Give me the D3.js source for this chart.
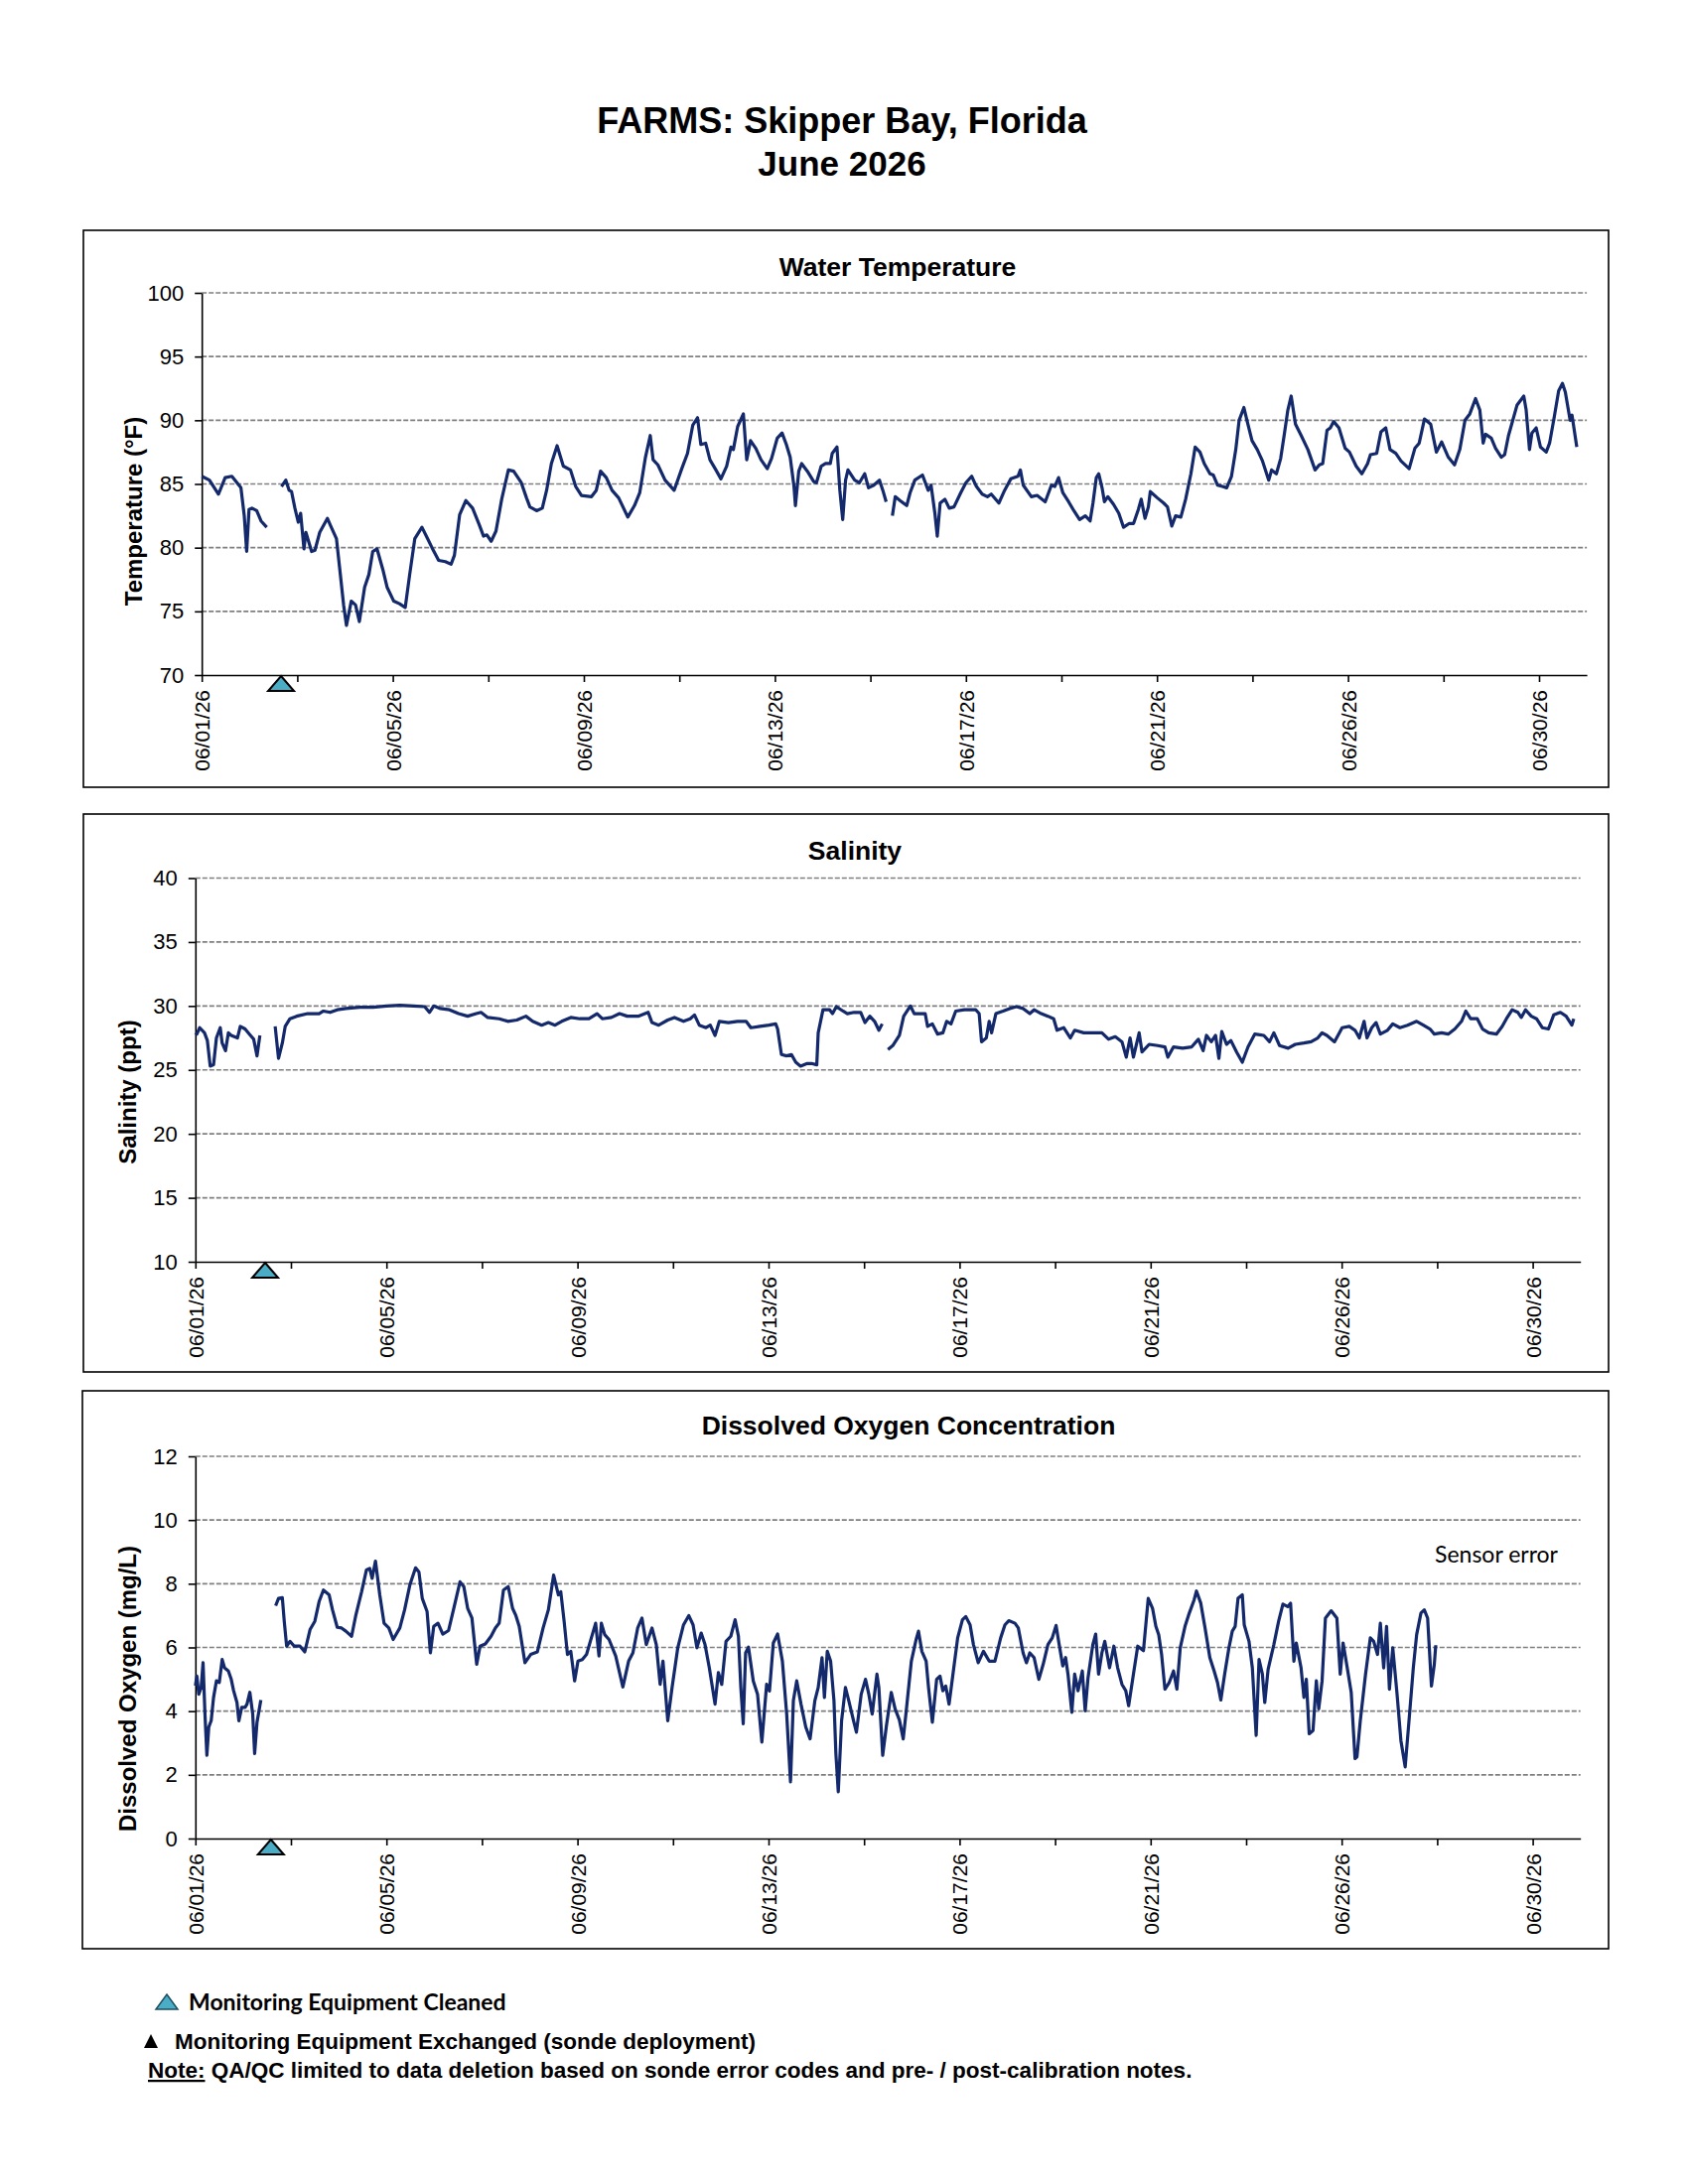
<!DOCTYPE html>
<html lang="en">

<head>
    <meta charset="UTF-8" />
    <title>FARMS: Skipper Bay, Florida - June 2026</title>
    <style>
        body {
            margin: 0;
            background: #fff;
        }

        svg {
            display: block;
            font-family: "Liberation Sans", Arial, sans-serif;
        }

        .grid {
            stroke: #7f7f7f;
            stroke-width: 1.6;
            stroke-dasharray: 5 2;
        }

        .axis path,
        .axis line {
            stroke: #000;
            stroke-width: 1.6;
        }

        .series {
            fill: none;
            stroke: #13296b;
            stroke-width: 3.2;
            stroke-linejoin: round;
        }
    </style>
</head>

<body>
    <svg width="1700" height="2200"></svg>
    <script src="https://cdn.jsdelivr.net/npm/d3@7"></script>
    <script>
        // x positions are in "days" from the 06/01/26 label, one axis tick every 2 days
        const dateLabels = ["06/01/26", "06/05/26", "06/09/26", "06/13/26", "06/17/26", "06/21/26", "06/26/26", "06/30/26"];
        const xTicks = d3.range(0, 29, 2);

        const tempTicks = [70, 75, 80, 85, 90, 95, 100];
        const salTicks = [10, 15, 20, 25, 30, 35, 40];
        const doTicks = [0, 2, 4, 6, 8, 10, 12];

        // day where the "Monitoring Equipment Cleaned" marker sits in each panel
        const cleanedAt = [1.66, 1.46, 1.58];

        // [day, value], null = no data
        const tempSeries = [
            [0, 85.6], [0.16, 85.3], [0.35, 84.2], [0.49, 85.5], [0.63, 85.6], [0.82, 84.7], [0.89, 82.5], [0.94, 79.7],
            [0.99, 83.0], [1.05, 83.1], [1.15, 82.9], [1.24, 82.1], [1.36, 81.6], [1.5, null],
            [1.67, 84.8], [1.76, 85.3], [1.83, 84.5], [1.88, 84.4], [1.95, 83.1], [2.02, 82.0], [2.07, 82.7], [2.14, 79.9],
            [2.18, 81.2], [2.30, 79.7], [2.37, 79.8], [2.47, 81.2], [2.63, 82.3], [2.70, 81.7], [2.82, 80.7], [2.89, 78.3],
            [2.97, 75.5], [3.03, 73.9], [3.13, 75.8], [3.22, 75.5], [3.30, 74.2], [3.41, 76.9], [3.50, 77.9], [3.58, 79.7],
            [3.67, 79.9], [3.79, 78.3], [3.88, 76.9], [4.02, 75.8], [4.14, 75.6], [4.26, 75.3], [4.35, 77.8], [4.46, 80.7],
            [4.61, 81.6], [4.73, 80.7], [4.82, 80.0], [4.96, 79.0], [5.10, 78.9], [5.22, 78.7], [5.29, 79.4], [5.40, 82.6],
            [5.53, 83.7], [5.67, 83.1], [5.81, 81.8], [5.90, 80.9], [5.97, 81.0], [6.06, 80.5], [6.16, 81.3], [6.28, 83.8],
            [6.42, 86.1], [6.53, 86.0], [6.69, 85.1], [6.80, 83.9], [6.87, 83.2], [7.01, 82.9], [7.13, 83.1], [7.22, 84.5],
            [7.32, 86.6], [7.44, 88.0], [7.57, 86.4], [7.72, 86.1], [7.83, 84.8], [7.95, 84.1], [8.16, 84.0], [8.26, 84.5],
            [8.35, 86.0], [8.47, 85.5], [8.59, 84.5], [8.73, 83.9], [8.92, 82.4], [9.06, 83.3], [9.17, 84.3], [9.29, 87.1],
            [9.39, 88.8], [9.45, 86.9], [9.55, 86.5], [9.70, 85.3], [9.89, 84.5], [10.05, 86.2], [10.17, 87.4], [10.28, 89.6],
            [10.38, 90.2], [10.45, 88.1], [10.55, 88.2], [10.64, 86.9], [10.75, 86.2], [10.87, 85.4], [10.99, 86.4], [11.08, 87.9],
            [11.13, 87.7], [11.22, 89.5], [11.34, 90.5], [11.41, 86.9], [11.49, 88.4], [11.60, 87.8], [11.71, 86.9], [11.84, 86.2],
            [11.93, 87.0], [12.05, 88.6], [12.15, 89.0], [12.24, 88.1], [12.32, 87.1], [12.40, 84.8], [12.43, 83.3], [12.50, 86.0],
            [12.56, 86.6], [12.68, 86.0], [12.81, 85.2], [12.87, 85.1], [12.97, 86.4], [13.06, 86.6], [13.16, 86.6], [13.20, 87.4],
            [13.30, 87.9], [13.36, 84.5], [13.42, 82.2], [13.48, 85.3], [13.53, 86.1], [13.67, 85.3], [13.77, 85.1], [13.88, 85.8],
            [13.96, 84.7], [14.07, 84.9], [14.19, 85.3], [14.26, 84.5], [14.33, 83.6], [14.39, null],
            [14.46, 82.5], [14.52, 84.0], [14.62, 83.7], [14.76, 83.3], [14.83, 84.3], [14.93, 85.3], [15.09, 85.7], [15.21, 84.5],
            [15.27, 84.9], [15.35, 82.7], [15.40, 80.9], [15.46, 83.5], [15.56, 83.8], [15.65, 83.1], [15.75, 83.2], [15.89, 84.3],
            [16.00, 85.1], [16.12, 85.6], [16.22, 84.8], [16.34, 84.2], [16.45, 84.0], [16.53, 84.2], [16.69, 83.5], [16.81, 84.5],
            [16.94, 85.4], [17.09, 85.6], [17.14, 86.1], [17.20, 84.9], [17.37, 84.0], [17.49, 84.1], [17.66, 83.6], [17.79, 84.9],
            [17.86, 84.8], [17.94, 85.5], [18.03, 84.3], [18.15, 83.6], [18.26, 82.9], [18.38, 82.2], [18.50, 82.5], [18.60, 82.1],
            [18.66, 83.5], [18.73, 85.5], [18.78, 85.8], [18.85, 84.7], [18.90, 83.6], [18.97, 84.0], [19.09, 83.4], [19.20, 82.7],
            [19.30, 81.6], [19.42, 81.9], [19.51, 81.9], [19.61, 83.0], [19.67, 83.8], [19.75, 82.3], [19.82, 83.2], [19.86, 84.4],
            [20.01, 83.9], [20.14, 83.5], [20.22, 83.2], [20.31, 81.7], [20.39, 82.5], [20.50, 82.4], [20.60, 83.8], [20.71, 85.8],
            [20.80, 87.9], [20.90, 87.5], [20.99, 86.6], [21.11, 85.8], [21.18, 85.7], [21.27, 84.9], [21.37, 84.8], [21.46, 84.7],
            [21.56, 85.6], [21.65, 87.7], [21.72, 90.0], [21.82, 91.0], [21.89, 89.9], [21.99, 88.4], [22.10, 87.7], [22.21, 86.8],
            [22.34, 85.3], [22.40, 86.1], [22.50, 85.8], [22.59, 87.0], [22.67, 89.0], [22.74, 90.8], [22.81, 91.9], [22.90, 89.7],
            [23.02, 88.8], [23.16, 87.7], [23.31, 86.1], [23.40, 86.5], [23.47, 86.6], [23.56, 89.2], [23.63, 89.4], [23.70, 89.9],
            [23.81, 89.4], [23.94, 87.8], [24.03, 87.5], [24.17, 86.4], [24.29, 85.8], [24.41, 86.6], [24.47, 87.3], [24.60, 87.4],
            [24.69, 89.1], [24.79, 89.4], [24.88, 87.7], [25.00, 87.4], [25.11, 86.8], [25.28, 86.2], [25.40, 87.8], [25.49, 88.2],
            [25.60, 90.1], [25.73, 89.7], [25.85, 87.5], [25.96, 88.3], [26.10, 87.1], [26.23, 86.5], [26.34, 87.7], [26.45, 90.0],
            [26.55, 90.5], [26.67, 91.7], [26.76, 90.8], [26.83, 88.2], [26.88, 88.9], [27.00, 88.6], [27.09, 87.8], [27.21, 87.1],
            [27.28, 87.3], [27.36, 88.8], [27.42, 89.6], [27.54, 91.2], [27.68, 91.9], [27.73, 90.8], [27.80, 87.7], [27.85, 89.0],
            [27.94, 89.4], [28.03, 87.9], [28.15, 87.5], [28.22, 88.2], [28.32, 90.3], [28.41, 92.3], [28.49, 92.9], [28.55, 92.2],
            [28.65, 90.0], [28.69, 90.4], [28.79, 87.9]
        ];

        const salSeries = [
            [0, 27.9], [0.03, 27.8], [0.09, 28.3], [0.19, 27.9], [0.25, 27.3], [0.31, 25.3], [0.38, 25.4], [0.44, 27.5],
            [0.52, 28.3], [0.56, 27.1], [0.63, 26.5], [0.69, 27.9], [0.75, 27.7], [0.88, 27.5], [0.94, 28.4], [1.04, 28.2],
            [1.13, 27.8], [1.22, 27.4], [1.29, 26.1], [1.35, 27.7], [1.5, null],
            [1.67, 28.4], [1.74, 25.9], [1.82, 27.1], [1.88, 28.4], [1.98, 29.0], [2.12, 29.2], [2.35, 29.4], [2.59, 29.4],
            [2.68, 29.6], [2.82, 29.5], [2.97, 29.7], [3.15, 29.8], [3.44, 29.9], [3.72, 29.9], [4.00, 30.0], [4.28, 30.05],
            [4.57, 30.0], [4.80, 29.95], [4.90, 29.5], [4.99, 30.0], [5.13, 29.8], [5.32, 29.7], [5.51, 29.4], [5.70, 29.2],
            [5.88, 29.4], [5.98, 29.5], [6.12, 29.1], [6.36, 29.0], [6.54, 28.8], [6.73, 28.9], [6.92, 29.2], [7.06, 28.8],
            [7.25, 28.5], [7.39, 28.7], [7.53, 28.5], [7.67, 28.8], [7.86, 29.1], [8.05, 29.0], [8.24, 29.0], [8.41, 29.4],
            [8.52, 29.0], [8.71, 29.1], [8.88, 29.4], [9.04, 29.2], [9.27, 29.2], [9.48, 29.5], [9.56, 28.7], [9.70, 28.5],
            [9.89, 28.9], [10.03, 29.1], [10.22, 28.8], [10.36, 29.0], [10.45, 29.3], [10.55, 28.5], [10.69, 28.3], [10.78, 28.5],
            [10.88, 27.7], [10.97, 28.8], [11.16, 28.7], [11.35, 28.8], [11.53, 28.8], [11.63, 28.3], [11.82, 28.4], [12.01, 28.5],
            [12.15, 28.6], [12.19, 28.2], [12.27, 26.2], [12.38, 26.1], [12.48, 26.2], [12.57, 25.6], [12.67, 25.3], [12.81, 25.5],
            [12.90, 25.5], [13.01, 25.4], [13.04, 27.9], [13.14, 29.7], [13.28, 29.7], [13.34, 29.4], [13.42, 29.95], [13.56, 29.6],
            [13.65, 29.4], [13.79, 29.5], [13.93, 29.5], [14.02, 28.7], [14.12, 29.2], [14.22, 28.8], [14.31, 28.1], [14.38, 28.6],
            [14.44, null],
            [14.50, 26.6], [14.60, 26.9], [14.74, 27.7], [14.83, 29.2], [14.97, 30.0], [15.05, 29.4], [15.16, 29.4], [15.28, 29.4],
            [15.33, 28.4], [15.43, 28.6], [15.54, 27.8], [15.65, 27.9], [15.73, 28.8], [15.82, 28.6], [15.92, 29.6], [16.10, 29.7],
            [16.34, 29.7], [16.41, 29.4], [16.46, 27.2], [16.56, 27.5], [16.62, 28.8], [16.67, 27.9], [16.76, 29.4], [16.91, 29.6],
            [17.05, 29.8], [17.19, 29.95], [17.33, 29.8], [17.47, 29.4], [17.56, 29.7], [17.71, 29.4], [17.85, 29.2], [17.97, 29.0],
            [18.04, 28.1], [18.18, 28.3], [18.32, 27.5], [18.41, 28.1], [18.60, 27.9], [18.79, 27.9], [18.98, 27.9], [19.12, 27.4],
            [19.26, 27.6], [19.40, 27.2], [19.49, 26.0], [19.57, 27.5], [19.64, 26.0], [19.76, 27.9], [19.82, 26.4], [19.97, 27.0],
            [20.15, 26.9], [20.30, 26.8], [20.36, 26.0], [20.48, 26.8], [20.67, 26.7], [20.86, 26.8], [21.00, 27.4], [21.10, 26.5],
            [21.17, 27.7], [21.27, 27.2], [21.36, 27.7], [21.43, 25.9], [21.49, 28.0], [21.59, 27.0], [21.68, 27.3], [21.80, 26.4],
            [21.92, 25.6], [22.04, 26.8], [22.18, 27.8], [22.37, 27.7], [22.49, 27.2], [22.58, 27.9], [22.70, 26.9], [22.88, 26.7],
            [23.03, 27.0], [23.21, 27.1], [23.36, 27.2], [23.50, 27.5], [23.59, 27.9], [23.69, 27.7], [23.85, 27.2], [24.01, 28.3],
            [24.16, 28.4], [24.28, 28.1], [24.37, 27.5], [24.47, 28.8], [24.53, 27.5], [24.63, 28.3], [24.72, 28.7], [24.81, 27.8],
            [24.96, 28.1], [25.07, 28.6], [25.22, 28.3], [25.38, 28.5], [25.57, 28.8], [25.71, 28.5], [25.85, 28.2], [25.94, 27.8],
            [26.09, 27.9], [26.23, 27.8], [26.37, 28.2], [26.51, 28.8], [26.60, 29.6], [26.70, 29.0], [26.84, 29.0], [26.95, 28.2],
            [27.08, 27.9], [27.24, 27.8], [27.36, 28.4], [27.45, 29.0], [27.57, 29.7], [27.69, 29.5], [27.76, 29.1], [27.85, 29.7],
            [27.97, 29.2], [28.08, 29.0], [28.20, 28.3], [28.33, 28.2], [28.44, 29.3], [28.58, 29.5], [28.70, 29.2], [28.82, 28.5],
            [28.86, 29.0]
        ];

        const doSeries = [
            [0, 4.8], [0.03, 5.10], [0.07, 4.53], [0.12, 4.74], [0.16, 5.52], [0.20, 3.91], [0.24, 2.61], [0.28, 3.50], [0.33, 3.70],
            [0.38, 4.43], [0.44, 4.95], [0.50, 4.90], [0.56, 5.62], [0.61, 5.36], [0.69, 5.26], [0.75, 5.00], [0.80, 4.64],
            [0.87, 4.27], [0.91, 3.70], [0.97, 4.12], [1.04, 4.12], [1.08, 4.22], [1.14, 4.59], [1.20, 3.91], [1.24, 2.67],
            [1.29, 3.65], [1.37, 4.35], [1.5, null],
            [1.68, 7.31], [1.74, 7.54], [1.82, 7.56], [1.86, 6.82], [1.91, 6.04], [1.98, 6.19], [2.07, 6.04], [2.19, 6.04],
            [2.29, 5.86], [2.40, 6.56], [2.50, 6.82], [2.59, 7.44], [2.68, 7.80], [2.80, 7.65], [2.87, 7.18], [2.97, 6.63],
            [3.06, 6.61], [3.15, 6.51], [3.27, 6.35], [3.36, 7.02], [3.48, 7.75], [3.58, 8.43], [3.65, 8.48], [3.70, 8.17],
            [3.77, 8.71], [3.86, 7.65], [3.95, 6.76], [4.05, 6.61], [4.14, 6.25], [4.28, 6.61], [4.38, 7.18], [4.49, 7.96],
            [4.61, 8.50], [4.68, 8.37], [4.75, 7.54], [4.85, 7.13], [4.92, 5.83], [4.99, 6.66], [5.08, 6.76], [5.18, 6.42],
            [5.30, 6.53], [5.41, 7.23], [5.54, 8.06], [5.62, 7.91], [5.70, 7.23], [5.79, 6.92], [5.89, 5.47], [5.96, 6.04],
            [6.07, 6.11], [6.19, 6.35], [6.28, 6.61], [6.36, 6.76], [6.45, 7.80], [6.55, 7.91], [6.64, 7.23], [6.71, 7.00],
            [6.78, 6.66], [6.90, 5.52], [7.02, 5.78], [7.16, 5.86], [7.28, 6.61], [7.39, 7.18], [7.50, 8.27], [7.60, 7.65],
            [7.65, 7.75], [7.72, 6.82], [7.79, 5.78], [7.86, 5.88], [7.94, 4.95], [8.01, 5.57], [8.10, 5.62], [8.19, 5.78],
            [8.29, 6.30], [8.38, 6.76], [8.45, 5.73], [8.50, 6.76], [8.57, 6.40], [8.66, 6.25], [8.80, 5.73], [8.95, 4.76],
            [9.07, 5.57], [9.16, 5.83], [9.26, 6.61], [9.35, 6.92], [9.44, 6.09], [9.56, 6.61], [9.65, 6.09], [9.73, 4.84],
            [9.79, 5.57], [9.89, 3.70], [9.98, 4.74], [10.10, 5.99], [10.22, 6.71], [10.33, 7.00], [10.42, 6.71], [10.50, 5.99],
            [10.59, 6.45], [10.67, 6.09], [10.76, 5.36], [10.88, 4.22], [10.95, 5.21], [11.02, 4.84], [11.11, 6.19], [11.21, 6.35],
            [11.30, 6.87], [11.37, 6.35], [11.42, 4.74], [11.47, 3.60], [11.52, 5.83], [11.58, 6.01], [11.68, 4.95], [11.77, 4.53],
            [11.86, 3.03], [11.96, 4.84], [12.02, 4.63], [12.10, 6.14], [12.19, 6.42], [12.29, 5.57], [12.38, 3.91], [12.46, 1.78],
            [12.52, 4.33], [12.59, 4.95], [12.68, 4.22], [12.78, 3.50], [12.87, 3.13], [12.97, 4.33], [13.04, 4.74], [13.12, 5.68],
            [13.17, 4.43], [13.23, 5.88], [13.30, 5.57], [13.37, 4.33], [13.41, 2.67], [13.46, 1.47], [13.53, 3.70], [13.61, 4.74],
            [13.68, 4.33], [13.78, 3.70], [13.84, 3.34], [13.94, 4.53], [14.03, 5.00], [14.10, 4.53], [14.17, 3.91], [14.27, 5.16],
            [14.31, 4.74], [14.39, 2.61], [14.47, 3.56], [14.57, 4.59], [14.65, 4.07], [14.74, 3.72], [14.82, 3.13], [14.88, 3.96],
            [14.99, 5.57], [15.09, 6.25], [15.14, 6.51], [15.21, 5.88], [15.30, 5.57], [15.35, 4.74], [15.43, 3.65], [15.52, 5.00],
            [15.59, 5.10], [15.65, 4.64], [15.71, 4.79], [15.78, 4.22], [15.87, 5.26], [15.96, 6.30], [16.06, 6.87], [16.13, 6.97],
            [16.22, 6.71], [16.29, 6.09], [16.39, 5.52], [16.50, 5.88], [16.62, 5.57], [16.74, 5.57], [16.86, 6.30], [16.95, 6.71],
            [17.03, 6.84], [17.16, 6.76], [17.23, 6.61], [17.33, 5.83], [17.40, 5.52], [17.47, 5.83], [17.56, 5.68], [17.66, 5.00],
            [17.75, 5.47], [17.85, 6.09], [17.94, 6.30], [18.02, 6.69], [18.08, 6.14], [18.16, 5.42], [18.22, 5.68], [18.27, 5.16],
            [18.35, 3.96], [18.41, 5.16], [18.48, 4.64], [18.57, 5.26], [18.63, 4.01], [18.69, 5.05], [18.79, 6.09], [18.85, 6.42],
            [18.91, 5.16], [18.98, 5.83], [19.04, 6.19], [19.14, 5.36], [19.23, 6.04], [19.31, 5.36], [19.40, 4.84], [19.48, 4.64],
            [19.54, 4.17], [19.64, 5.16], [19.73, 6.04], [19.85, 5.90], [19.95, 7.54], [20.04, 7.23], [20.11, 6.66], [20.17, 6.40],
            [20.23, 5.78], [20.30, 4.69], [20.39, 4.90], [20.48, 5.26], [20.55, 4.69], [20.62, 5.99], [20.72, 6.66], [20.81, 7.08],
            [20.91, 7.49], [20.96, 7.77], [21.05, 7.39], [21.14, 6.61], [21.24, 5.68], [21.33, 5.26], [21.40, 4.90], [21.47, 4.35],
            [21.55, 5.16], [21.64, 5.99], [21.71, 6.51], [21.77, 6.66], [21.83, 7.54], [21.92, 7.65], [21.96, 6.71], [22.06, 6.19],
            [22.13, 5.36], [22.21, 3.24], [22.27, 5.62], [22.34, 5.16], [22.39, 4.27], [22.46, 5.31], [22.58, 6.09], [22.68, 6.82],
            [22.77, 7.36], [22.87, 7.28], [22.93, 7.39], [23.00, 5.57], [23.05, 6.14], [23.15, 5.36], [23.21, 4.43], [23.26, 5.00],
            [23.32, 3.29], [23.40, 3.39], [23.47, 4.95], [23.52, 4.07], [23.59, 4.95], [23.66, 6.92], [23.78, 7.15], [23.90, 6.92],
            [23.97, 5.16], [24.03, 6.14], [24.11, 5.42], [24.20, 4.59], [24.28, 2.51], [24.32, 2.56], [24.39, 3.70], [24.50, 5.16],
            [24.60, 6.30], [24.67, 6.19], [24.75, 5.78], [24.81, 6.76], [24.88, 5.36], [24.94, 6.66], [25.00, 4.69], [25.07, 5.99],
            [25.16, 4.53], [25.24, 3.08], [25.33, 2.25], [25.41, 3.70], [25.50, 5.36], [25.57, 6.40], [25.66, 7.08], [25.73, 7.18],
            [25.80, 6.92], [25.88, 4.79], [25.94, 5.47], [25.97, 6.07]
        ];

        const svg = d3.select("svg");
        const DAY_PX = 48.1;

        // page title
        svg.append("text")
            .attr("x", 848).attr("y", 134)
            .attr("text-anchor", "middle")
            .style("font-size", "36px").style("font-weight", "bold")
            .text("FARMS: Skipper Bay, Florida");
        svg.append("text")
            .attr("x", 848).attr("y", 177)
            .attr("text-anchor", "middle")
            .style("font-size", "35px").style("font-weight", "bold")
            .text("June 2026");

        function drawPanel(cfg) {
            const { box, left, yTop, yBot, domain, ticks, series, title, titleX, titleY, yLabel, yLabelX, yLabelY, marker } = cfg;

            svg.append("rect")
                .attr("x", box[0]).attr("y", box[1])
                .attr("width", box[2] - box[0]).attr("height", box[3] - box[1])
                .attr("fill", "#fff").attr("stroke", "#000").attr("stroke-width", 1.6);

            const x = d3.scaleLinear().domain([0, 29]).range([left, left + 29 * DAY_PX]);
            const y = d3.scaleLinear().domain(domain).range([yBot, yTop]);

            svg.append("text")
                .attr("x", titleX).attr("y", titleY)
                .attr("text-anchor", "middle")
                .style("font-size", "26.5px").style("font-weight", "bold")
                .text(title);

            // dashed gridlines
            svg.append("g").selectAll("line")
                .data(ticks.slice(1))
                .join("line")
                .attr("class", "grid")
                .attr("x1", x(0)).attr("x2", x(29))
                .attr("y1", d => y(d)).attr("y2", d => y(d));

            const yAxis = svg.append("g")
                .attr("class", "axis")
                .attr("transform", `translate(${left},0)`)
                .call(d3.axisLeft(y).tickValues(ticks).tickSize(7).tickSizeOuter(0).tickPadding(11));
            yAxis.selectAll("text")
                .style("font-size", "22px")
                .style("font-family", '"Liberation Sans", Arial, sans-serif')
                .attr("fill", "#000");

            const xAxis = svg.append("g")
                .attr("class", "axis")
                .attr("transform", `translate(0,${yBot})`)
                .call(d3.axisBottom(x)
                    .tickValues(xTicks)
                    .tickSize(7)
                    .tickSizeOuter(0)
                    .tickFormat((d, i) => i % 2 === 0 ? dateLabels[i / 2] : ""));
            xAxis.selectAll("text")
                .attr("transform", "rotate(-90)")
                .attr("x", -15)
                .attr("y", 0)
                .attr("dy", "0.36em")
                .style("text-anchor", "end")
                .style("font-size", "21px")
                .style("font-family", '"Liberation Sans", Arial, sans-serif')
                .attr("fill", "#000");

            svg.append("text")
                .attr("transform", `translate(${yLabelX},${yLabelY}) rotate(-90)`)
                .attr("text-anchor", "middle")
                .style("font-size", "24px").style("font-weight", "bold")
                .text(yLabel);

            const line = d3.line()
                .defined(d => d[1] !== null)
                .x(d => x(d[0]))
                .y(d => y(d[1]));

            svg.append("path")
                .datum(series)
                .attr("class", "series")
                .attr("d", line);

            // cleaned marker, tip on the axis
            const mx = x(marker);
            svg.append("path")
                .attr("d", `M${mx},${yBot + 1} L${mx + 13},${yBot + 16} L${mx - 13},${yBot + 16} Z`)
                .attr("fill", "#4bacc6")
                .attr("stroke", "#000")
                .attr("stroke-width", 2)
                .attr("stroke-linejoin", "miter");

            return { x, y };
        }

        drawPanel({
            box: [84, 232, 1620, 793], left: 203.2, yTop: 295, yBot: 680,
            domain: [70, 100], ticks: tempTicks, series: tempSeries,
            title: "Water Temperature", titleX: 904, titleY: 278,
            yLabel: "Temperature (°F)", yLabelX: 143, yLabelY: 515, marker: cleanedAt[0]
        });

        drawPanel({
            box: [84, 820, 1620, 1382], left: 196.8, yTop: 884.5, yBot: 1271,
            domain: [10, 40], ticks: salTicks, series: salSeries,
            title: "Salinity", titleX: 861, titleY: 866,
            yLabel: "Salinity (ppt)", yLabelX: 137, yLabelY: 1100, marker: cleanedAt[1]
        });

        drawPanel({
            box: [83, 1401, 1620, 1963], left: 196.8, yTop: 1467, yBot: 1852,
            domain: [0, 12], ticks: doTicks, series: doSeries,
            title: "Dissolved Oxygen Concentration", titleX: 915, titleY: 1445,
            yLabel: "Dissolved Oxygen (mg/L)", yLabelX: 137, yLabelY: 1701, marker: cleanedAt[2]
        });

        svg.append("text")
            .attr("x", 1445).attr("y", 1574)
            .style("font-family", "Lato, 'Open Sans', sans-serif")
            .style("font-size", "23px")
            .text("Sensor error");

        // legend / notes
        svg.append("path")
            .attr("d", "M168,2009 L179,2024 L157,2024 Z")
            .attr("fill", "#4bacc6")
            .attr("stroke", "#1d4f62")
            .attr("stroke-width", 1.5);
        svg.append("text")
            .attr("x", 190).attr("y", 2025)
            .style("font-family", "Lato, 'Open Sans', sans-serif")
            .style("font-size", "23px").style("font-weight", "bold")
            .text("Monitoring Equipment Cleaned");

        svg.append("path")
            .attr("d", "M152,2049 L159,2063 L145,2063 Z")
            .attr("fill", "#000");
        svg.append("text")
            .attr("x", 176).attr("y", 2064)
            .style("font-size", "22.5px").style("font-weight", "bold")
            .text("Monitoring Equipment Exchanged (sonde deployment)");

        const note = svg.append("text")
            .attr("x", 149).attr("y", 2093)
            .style("font-size", "22.5px").style("font-weight", "bold");
        note.append("tspan")
            .style("text-decoration", "underline")
            .text("Note:");
        note.append("tspan")
            .text(" QA/QC limited to data deletion based on sonde error codes and pre- / post-calibration notes.");
    </script>
</body>

</html>
